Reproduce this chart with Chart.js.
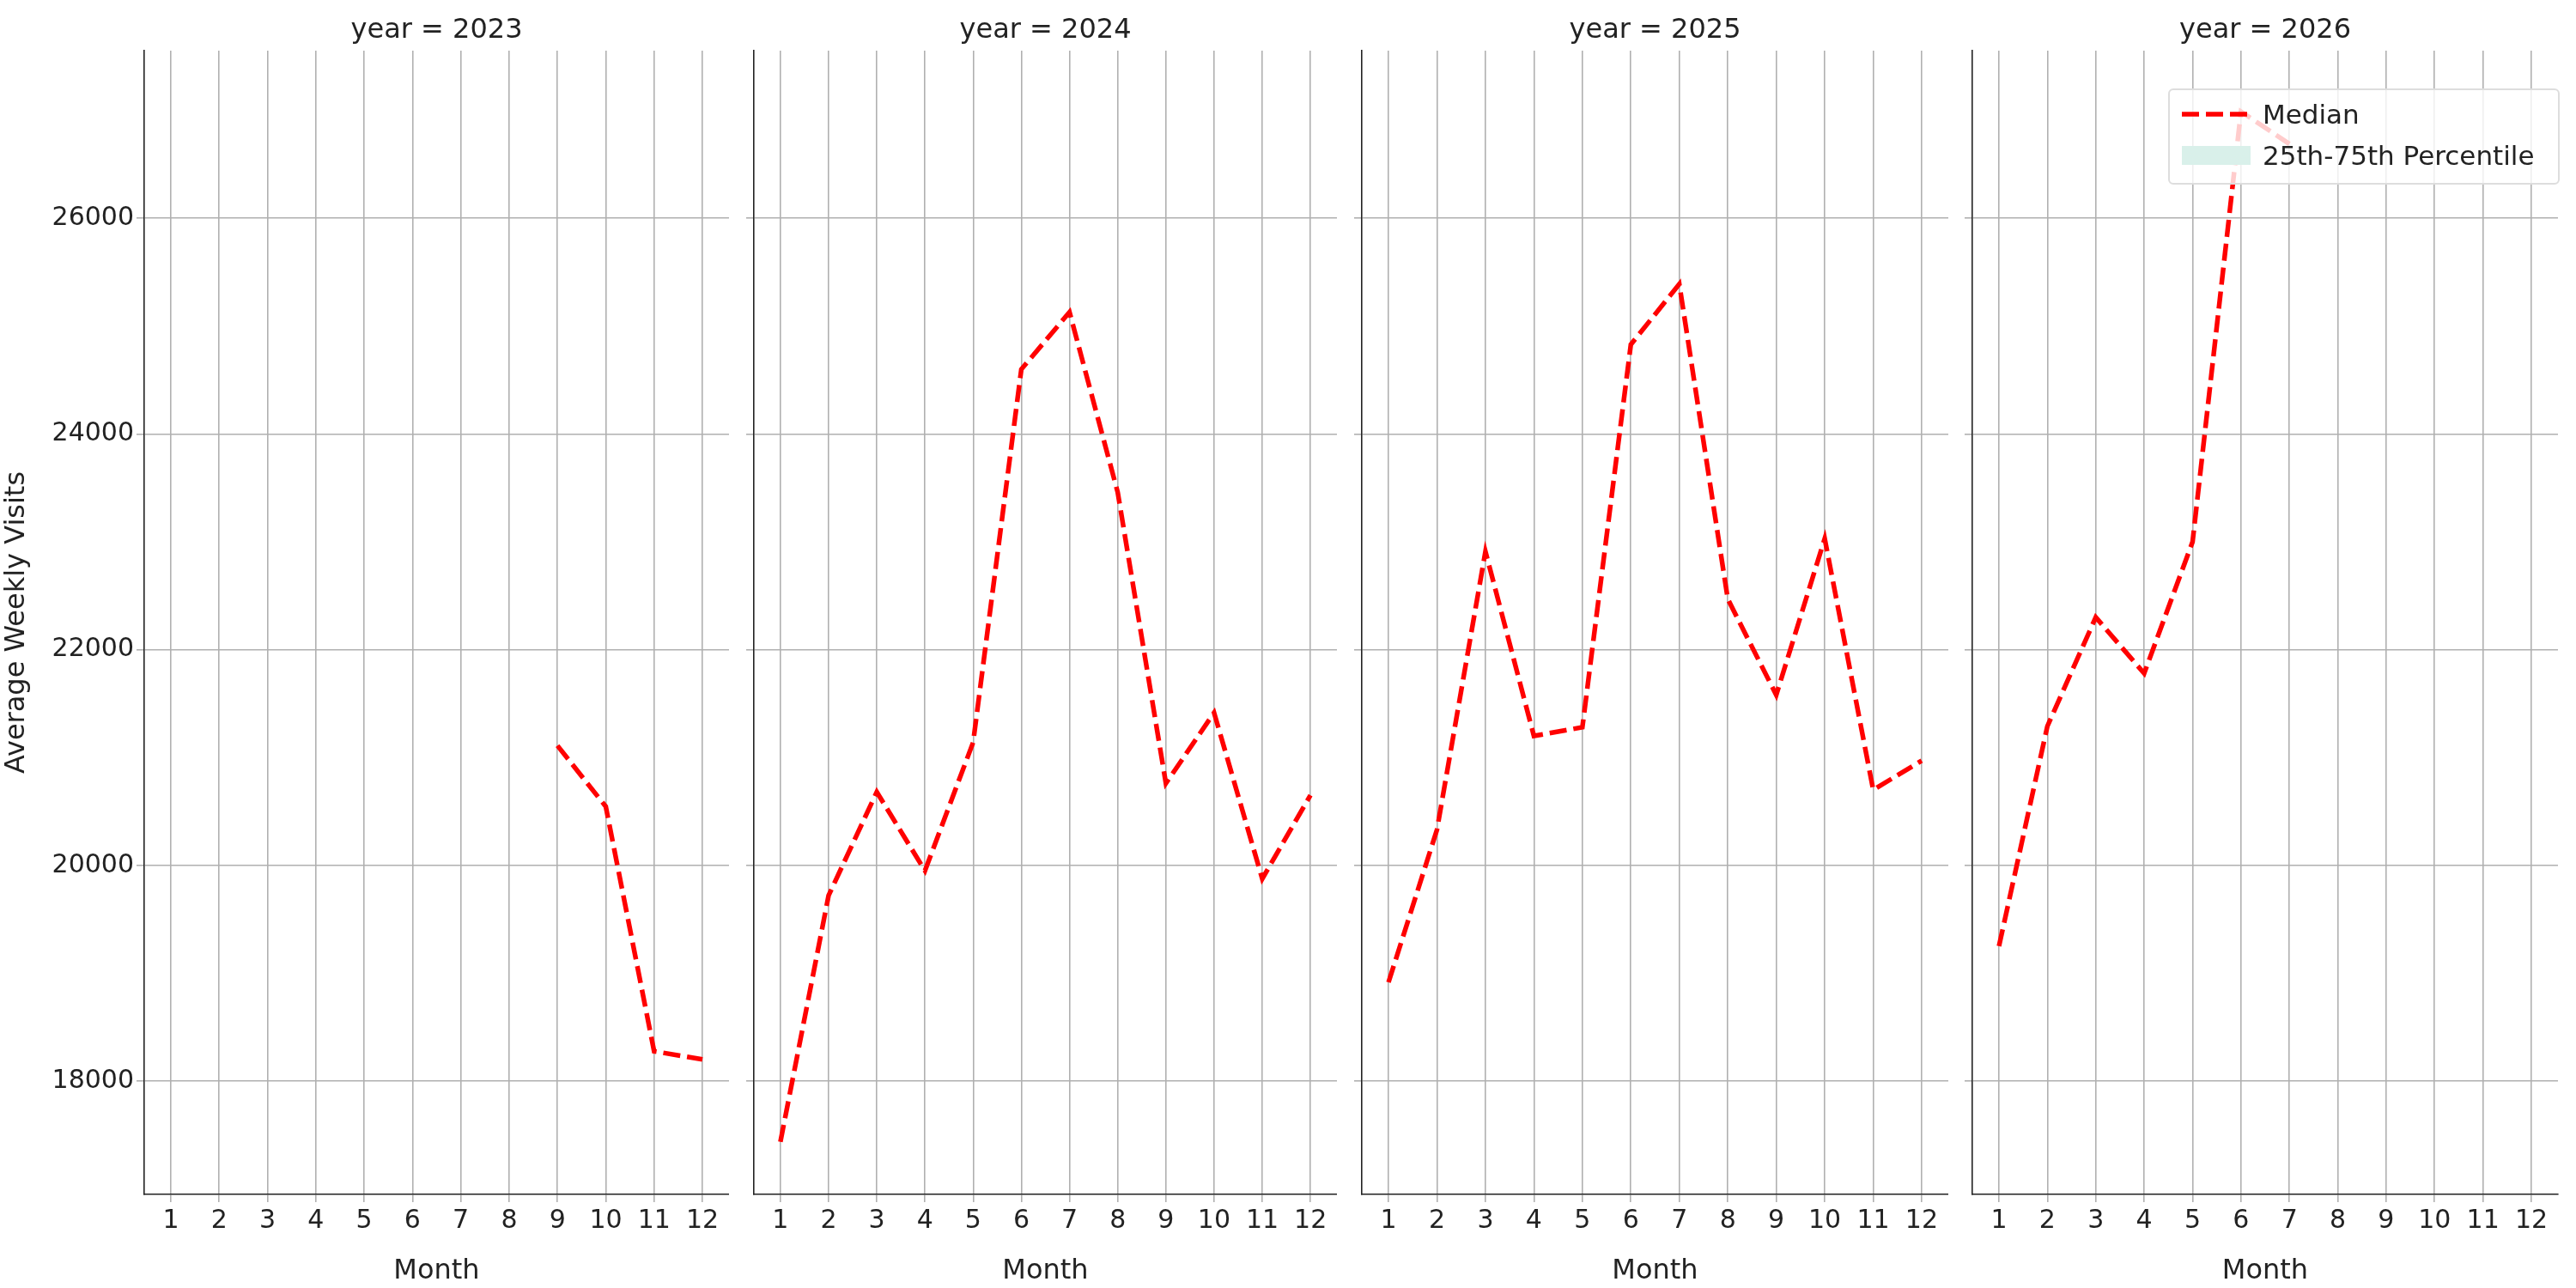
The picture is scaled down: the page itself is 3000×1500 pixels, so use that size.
<!DOCTYPE html>
<html>
<head>
<meta charset="utf-8">
<script src="https://cdn.jsdelivr.net/npm/chart.js@4.4.1/dist/chart.umd.min.js"></script>
<style>
  body { margin: 0; background: #fff; font-family: "DejaVu Sans", sans-serif; }
  #wrap { position: relative; width: 3000px; height: 1500px; }
  canvas { position: absolute; top: 0; }
  #legend { position: absolute; left: 2525px; top: 103px; width: 452px; height: 108px;
    border: 2px solid #ddd; border-radius: 6px; background: rgba(255,255,255,0.8); font-size: 31px; color: #222; }
  .row { position: absolute; left: 14px; display: flex; align-items: center; }
  .row span { margin-left: 14px; }
</style>
</head>
<body>
<div id="wrap">
  <canvas id="c0"></canvas><canvas id="c1"></canvas><canvas id="c2"></canvas><canvas id="c3"></canvas>
  <div id="legend">
    <div class="row" style="top:10px"><svg width="80" height="20"><line x1="0" y1="10" x2="80" y2="10" stroke="#ff0000" stroke-width="5.5" stroke-dasharray="20,8"/></svg><span>Median</span></div>
    <div class="row" style="top:58px"><svg width="80" height="30"><rect x="0" y="4" width="80" height="22" fill="#d9f0ea"/></svg><span>25th-75th Percentile</span></div>
  </div>
</div>
<script>
const years = [2023, 2024, 2025, 2026];
const months = [1, 2, 3, 4, 5, 6, 7, 8, 9, 10, 11, 12];
const median2023 = [null, null, null, null, null, null, null, null, 21110, 20545, 18275, 18200];
const median2024 = [17436, 19720, 20680, 19950, 21140, 24600, 25130, 23460, 20760, 21415, 19875, 20650];
const median2025 = [18915, 20330, 22910, 21200, 21280, 24830, 25390, 22470, 21580, 23030, 20700, 20970];
const median2026 = [19250, 21290, 22300, 21780, 23000, 26990, 26690, null, null, null, null, null];
const yTicks = [18000, 20000, 22000, 24000, 26000];
const series = [median2023, median2024, median2025, median2026];

// canvas x-ranges [left, right] and y-axis widths
const panels = [[0, 849, 168], [849, 1557, 29], [1557, 2269, 29], [2269, 2990, 28]];
const font = { family: 'DejaVu Sans', size: 30 };

years.forEach((yr, i) => {
  const [l, r, yw] = panels[i];
  const cv = document.getElementById('c' + i);
  cv.style.left = l + 'px';
  cv.width = r - l; cv.height = 1500;
  new Chart(cv, {
    type: 'line',
    data: {
      datasets: [{
        label: 'Median',
        data: months.map((m, k) => ({ x: m, y: series[i][k] })),
        borderColor: '#ff0000', borderWidth: 5.5, borderDash: [20, 8],
        pointRadius: 0, spanGaps: false, tension: 0
      }]
    },
    options: {
      responsive: false, animation: false,
      layout: { padding: { top: 59, right: i === 3 ? 11 : 0 } },
      plugins: { legend: { display: false }, tooltip: { enabled: false } },
      scales: {
        x: {
          type: 'linear', min: 0.45, max: 12.55,
          afterBuildTicks: s => { s.ticks = months.map(v => ({ value: v })); },
          afterFit: s => { s.height = 109; },
          ticks: { font, color: '#222', autoSkip: false, maxRotation: 0, padding: 4 },
          grid: { color: '#b0b0b0', lineWidth: 1.6, tickLength: 9 },
          border: { color: '#222', width: 1.6 },
          title: { display: true, text: 'Month', font: { family: 'DejaVu Sans', size: 32 }, color: '#222', padding: { top: 0, bottom: 0 } }
        },
        y: {
          min: 16948, max: 27555,
          afterBuildTicks: s => { s.ticks = yTicks.map(v => ({ value: v })); },
          afterFit: s => { s.width = yw; },
          ticks: { display: i === 0, font, color: '#222', callback: v => String(v) },
          grid: { color: '#b0b0b0', lineWidth: 1.6, tickLength: 9 },
          border: { color: '#222', width: 1.6 },
          title: { display: i === 0, text: 'Average Weekly Visits', font: { family: 'DejaVu Sans', size: 32 }, color: '#222', padding: { top: 0, bottom: 4 } }
        }
      }
    },
    plugins: [{
      id: 'panelTitle',
      afterDraw(c) {
        const ctx = c.ctx, a = c.chartArea;
        ctx.save();
        ctx.font = '32px "DejaVu Sans"';
        ctx.fillStyle = '#222'; ctx.textAlign = 'center'; ctx.textBaseline = 'middle';
        ctx.fillText('year = ' + yr, (a.left + a.right) / 2, 36);
        ctx.restore();
      }
    }]
  });
});
</script>
</body>
</html>
